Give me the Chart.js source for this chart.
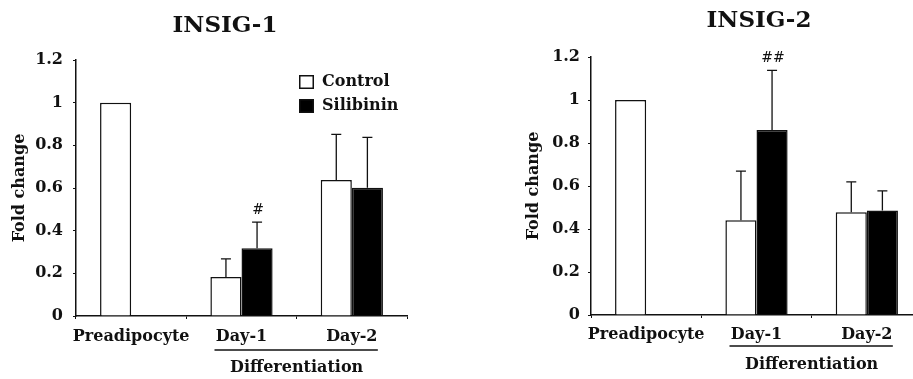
<!DOCTYPE html>
<html><head><meta charset="utf-8">
<script src="https://cdn.jsdelivr.net/npm/chart.js@4.4.1/dist/chart.umd.min.js"></script>
<style>
html,body{margin:0;padding:0;overflow:hidden;background:#fff;width:913px;height:379px;}
#c1{position:absolute;left:0;top:0;}
#c2{position:absolute;left:460px;top:0;}
</style></head>
<body>
<canvas id="c1" width="460" height="379"></canvas>
<canvas id="c2" width="470" height="379"></canvas>
<script>
// ---- data ----
const categories = ['Preadipocyte', 'Day-1', 'Day-2'];
const seriesNames = ['Control', 'Silibinin'];
const groupLabel = 'Differentiation';
const yTickLabels = ['0', '0.2', '0.4', '0.6', '0.8', '1', '1.2'];

const insig1Control = [1.0, 0.183, 0.638];
const insig1ControlErr = [null, 0.085, 0.213];
const insig1Silibinin = [null, 0.318, 0.601];
const insig1SilibininErr = [null, 0.122, 0.236];
const insig1Sig = ['', '#', ''];

const insig2Control = [1.0, 0.441, 0.478];
const insig2ControlErr = [null, 0.228, 0.141];
const insig2Silibinin = [null, 0.861, 0.486];
const insig2SilibininErr = [null, 0.277, 0.091];
const insig2Sig = ['', '##', ''];

const INK = '#111';
const FAM = "'DejaVu Serif', 'Liberation Serif', serif";

const annotate = {
  id: 'annotate',
  afterDatasetsDraw(chart, args, o) {
    const ctx = chart.ctx, ys = chart.scales.y, xs = chart.scales.x, ca = chart.chartArea;
    ctx.save();
    ctx.strokeStyle = INK; ctx.fillStyle = INK; ctx.lineWidth = 1.3;
    // error bars + significance
    chart.data.datasets.forEach((ds, i) => {
      const meta = chart.getDatasetMeta(i);
      meta.data.forEach((bar, j) => {
        const v = ds.data[j], e = ds.errors[j];
        if (v == null || e == null) return;
        const yt = ys.getPixelForValue(v + e);
        ctx.beginPath();
        ctx.moveTo(bar.x, bar.y); ctx.lineTo(bar.x, yt);
        ctx.moveTo(bar.x - 5, yt); ctx.lineTo(bar.x + 5, yt);
        ctx.stroke();
        const s = ds.sig ? ds.sig[j] : '';
        if (s) {
          ctx.font = '14px ' + FAM;
          ctx.textAlign = 'center'; ctx.textBaseline = 'bottom';
          ctx.fillText(s, bar.x + 1, yt - 5);
        }
      });
    });
    // title
    ctx.font = 'bold 23px ' + FAM;
    ctx.textAlign = 'center'; ctx.textBaseline = 'middle';
    ctx.fillText(o.title, o.titleX, o.titleY);
    // group underline + label
    const x1 = xs.getPixelForValue(1), x2 = xs.getPixelForValue(2);
    ctx.lineWidth = 1.3;
    ctx.beginPath();
    ctx.moveTo(x1 - 27, ca.bottom + o.lineDy); ctx.lineTo(x2 + 26, ca.bottom + o.lineDy);
    ctx.stroke();
    ctx.font = 'bold 16px ' + FAM;
    ctx.fillText(groupLabel, (x1 + x2) / 2, ca.bottom + o.groupDy);
    // legend
    if (o.legend) {
      const lx = ca.right - 108, ly = ca.top + 15;
      chart.data.datasets.forEach((ds, i) => {
        const by = ly + i * 24;
        ctx.fillStyle = ds.backgroundColor;
        ctx.fillRect(lx, by, 15, 14);
        ctx.lineWidth = 1.5; ctx.strokeStyle = INK;
        ctx.strokeRect(lx + 0.75, by + 0.75, 13.5, 12.5);
        ctx.fillStyle = INK;
        ctx.textAlign = 'left'; ctx.textBaseline = 'middle';
        ctx.font = 'bold 16px ' + FAM;
        ctx.fillText(ds.label, lx + 23, by + 7);
      });
    }
    ctx.restore();
  }
};

function makeChart(id, ctrl, ctrlErr, sil, silErr, sig, L) {
  return new Chart(document.getElementById(id), {
    type: 'bar',
    data: {
      labels: categories,
      datasets: [
        { label: seriesNames[0], data: ctrl, errors: ctrlErr, backgroundColor: '#ffffff',
          borderColor: INK, borderWidth: 1.5, categoryPercentage: 0.564, barPercentage: 1.0 },
        { label: seriesNames[1], data: sil, errors: silErr, sig: sig, backgroundColor: '#000000',
          borderColor: INK, borderWidth: 1.5, categoryPercentage: 0.564, barPercentage: 1.0 }
      ]
    },
    options: {
      responsive: false, animation: false, devicePixelRatio: 1,
      layout: { padding: L.padding },
      plugins: {
        legend: { display: false }, tooltip: { enabled: false },
        annotate: L.annot
      },
      scales: {
        x: {
          grid: { display: true, drawOnChartArea: false, tickLength: 3, color: INK },
          border: { display: true, color: INK, width: 1.5 },
          ticks: { color: INK, font: { family: FAM, size: 16, weight: 'bold' }, padding: L.xPad,
                   maxRotation: 0, autoSkip: false },
          afterFit: s => { s.height = L.xH; }
        },
        y: {
          min: 0, max: 1.2,
          grid: { display: true, drawOnChartArea: false, tickLength: 3, color: INK },
          border: { display: true, color: INK, width: 1.5 },
          ticks: { stepSize: 0.2, color: INK, font: { family: FAM, size: 16, weight: 'bold' },
                   padding: L.yPad, callback: (v, i) => yTickLabels[i] ?? v },
          title: { display: true, text: 'Fold change', color: INK,
                   font: { family: FAM, size: 16, weight: 'bold' }, padding: { top: L.tPad, bottom: 0 } },
          afterFit: s => { s.width = 76; }
        }
      }
    },
    plugins: [annotate]
  });
}

makeChart('c1', insig1Control, insig1ControlErr, insig1Silibinin, insig1SilibininErr, insig1Sig, {
  padding: { left: 0, right: 53, top: 60, bottom: 0 }, xH: 63, xPad: 8, yPad: 10, tPad: 10,
  annot: { title: 'INSIG-1', titleX: 225, titleY: 26, legend: true, lineDy: 34, groupDy: 52 }
});
makeChart('c2', insig2Control, insig2ControlErr, insig2Silibinin, insig2SilibininErr, insig2Sig, {
  padding: { left: 55, right: 8, top: 57, bottom: 0 }, xH: 64, xPad: 7, yPad: 8, tPad: 9,
  annot: { title: 'INSIG-2', titleX: 299, titleY: 21, legend: false, lineDy: 31, groupDy: 50 }
});
</script>
</body></html>
